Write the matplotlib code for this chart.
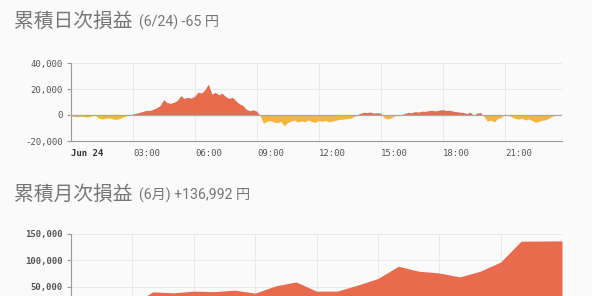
import numpy as np
import matplotlib
matplotlib.use('Agg')
import matplotlib.pyplot as plt

# ---- data ----------------------------------------------------------------
# intraday cumulative P/L (yen), one value every 10 minutes from 00:00
daily_pl = [
    -1200, -1500, -1800, -1300, -1600, -2000,      # 00h
    -1400,   200, -2500, -3500, -3000, -2600,      # 01h
    -3200, -3800, -3400, -2200, -1200,  -400,      # 02h
      300,   900,  1600,  2400,  3200,  3000,      # 03h
     4000,  5200,  6800, 11400,  9200,  8600,      # 04h
     9400, 10800, 14500, 12300, 13200, 12600,      # 05h
    14000, 17200, 16500, 19000, 23400, 15800,      # 06h
    17000, 15200, 16400, 13800, 12400, 13200,      # 07h
    10600,  8200,  7000,  4000,  2900,  3600,      # 08h
     2600,  -800, -6800, -5200, -4600, -5800,      # 09h
    -6400, -5200, -8600, -6200, -5000, -4300,      # 10h
    -5800, -4800, -5600, -4200, -5400, -6000,      # 11h
    -4800, -5200, -4600, -5600, -5000, -4400,      # 12h
    -3800, -3600, -3200, -3000, -2000,  -600,      # 13h
      800,  1700,  1500,  1900,  1100,  1400,      # 14h
     1000, -2400, -3400, -2800, -1200,  -300,      # 15h
     -300,   900,  1600,  1400,  2200,  1900,      # 16h
     2600,  2400,  3000,  3200,  2800,  3400,      # 17h
     3800,  3100,  3300,  2600,  2200,  1800,      # 18h
     1600,   700,  1800,  -600,  1200,  1500,      # 19h
    -1500, -5200, -4400, -5600, -3000, -2200,      # 20h
      300,  -600, -1800, -3000, -3600, -2800,      # 21h
    -4200, -3400, -4800, -6000, -5200, -4400,      # 22h
    -4000, -2600, -1200,  -300,   -65,             # 23h
]
daily_minutes = np.arange(len(daily_pl)) * 10

daily_xticks = [0, 3, 6, 9, 12, 15, 18, 21]
daily_xlabels = ['Jun 24', '03:00', '06:00', '09:00', '12:00', '15:00', '18:00', '21:00']
daily_yticks = [40000, 20000, 0, -20000]
daily_ylabels = ['40,000', '20,000', '0', '-20,000']

# cumulative monthly P/L (yen), one value per trading day in June
monthly_pl = [0, 2000, 5000, 16800, 40200, 38300, 41500, 40600, 43400, 37700,
              51500, 59000, 41500, 41500, 52800, 65500, 88700, 79300, 76000,
              68500, 79300, 96800, 136400, 136600, 136992]
monthly_xgrid = [3, 6, 9, 12, 15, 18, 21]
monthly_yticks = [150000, 100000, 50000]
monthly_ylabels = ['150,000', '100,000', '50,000']

# ---- style ---------------------------------------------------------------
BG = '#fafafa'
RED = '#e86b4d'
YEL = '#f4b53f'
GRID = '#e9e9e9'
TXT = '#767676'
TICK = '#555555'
MONO = 'DejaVu Sans Mono'
JP = ['Noto Sans CJK JP', 'DejaVu Sans']
SUB = ['Roboto', 'Noto Sans CJK JP', 'DejaVu Sans']

fig = plt.figure(figsize=(5.92, 2.96), dpi=100, facecolor=BG)

# titles
fig.text(14/592, 1-27/296, '累積日次損益', family=JP, fontsize=14.2, color=TXT, va='baseline')
fig.text(139/592, 1-27/296, '(6/24) -65 円', family=SUB, fontsize=10.2, color=TXT, va='baseline')
fig.text(14/592, 1-200/296, '累積月次損益', family=JP, fontsize=14.2, color=TXT, va='baseline')
fig.text(139/592, 1-200/296, '(6月) +136,992 円', family=SUB, fontsize=10.2, color=TXT, va='baseline')


def style_axes(ax, bold=False):
    ax.set_facecolor(BG)
    for s in ['top', 'right']:
        ax.spines[s].set_visible(False)
    ax.spines['left'].set_color('#9a9a9a')
    ax.spines['bottom'].set_color('#9a9a9a')
    ax.spines['left'].set_linewidth(0.8)
    ax.spines['bottom'].set_linewidth(0.8)
    ax.tick_params(axis='y', length=3, width=0.8, color='#9a9a9a', pad=3)
    ax.tick_params(axis='x', length=0, pad=6)
    for lab in ax.get_yticklabels() + ax.get_xticklabels():
        lab.set_family(MONO)
        lab.set_fontsize(6.5)
        lab.set_color(TICK)
        if bold:
            lab.set_fontweight('bold')
    ax.grid(True, color=GRID, linewidth=0.7)
    ax.set_axisbelow(True)


# ---- daily chart ---------------------------------------------------------
ax1 = fig.add_axes([71/592, 1-141/296, 491/592, 78/296])
hours = daily_minutes / 60.0
vals = np.array(daily_pl, dtype=float)
ax1.fill_between(hours, 0, vals, where=vals >= 0, interpolate=True, color=RED, linewidth=0)
ax1.fill_between(hours, 0, vals, where=vals <= 0, interpolate=True, color=YEL, linewidth=0)
ax1.axhline(0, color='#a8a8a8', linewidth=0.9, zorder=3)
ax1.set_xlim(0, 23.75)
ax1.set_ylim(-20000, 40000)
ax1.set_yticks(daily_yticks)
ax1.set_yticklabels(daily_ylabels)
ax1.set_xticks(daily_xticks)
ax1.set_xticklabels(daily_xlabels, ha='left')
style_axes(ax1)
ax1.get_xticklabels()[0].set_fontweight('bold')
ax1.get_xticklabels()[0].set_color('#333333')

# ---- monthly chart -------------------------------------------------------
ax2 = fig.add_axes([71/592, 1-313/296, 491/592, 79/296])
idx = np.arange(len(monthly_pl))
ax2.fill_between(idx, 0, monthly_pl, color=RED, linewidth=0)
ax2.set_xlim(0, len(monthly_pl) - 1)
ax2.set_ylim(0, 150000)
ax2.set_yticks(monthly_yticks)
ax2.set_yticklabels(monthly_ylabels)
ax2.set_xticks(monthly_xgrid)
ax2.set_xticklabels([])
style_axes(ax2, bold=True)

fig.savefig('out.png', dpi=100, facecolor=BG)
